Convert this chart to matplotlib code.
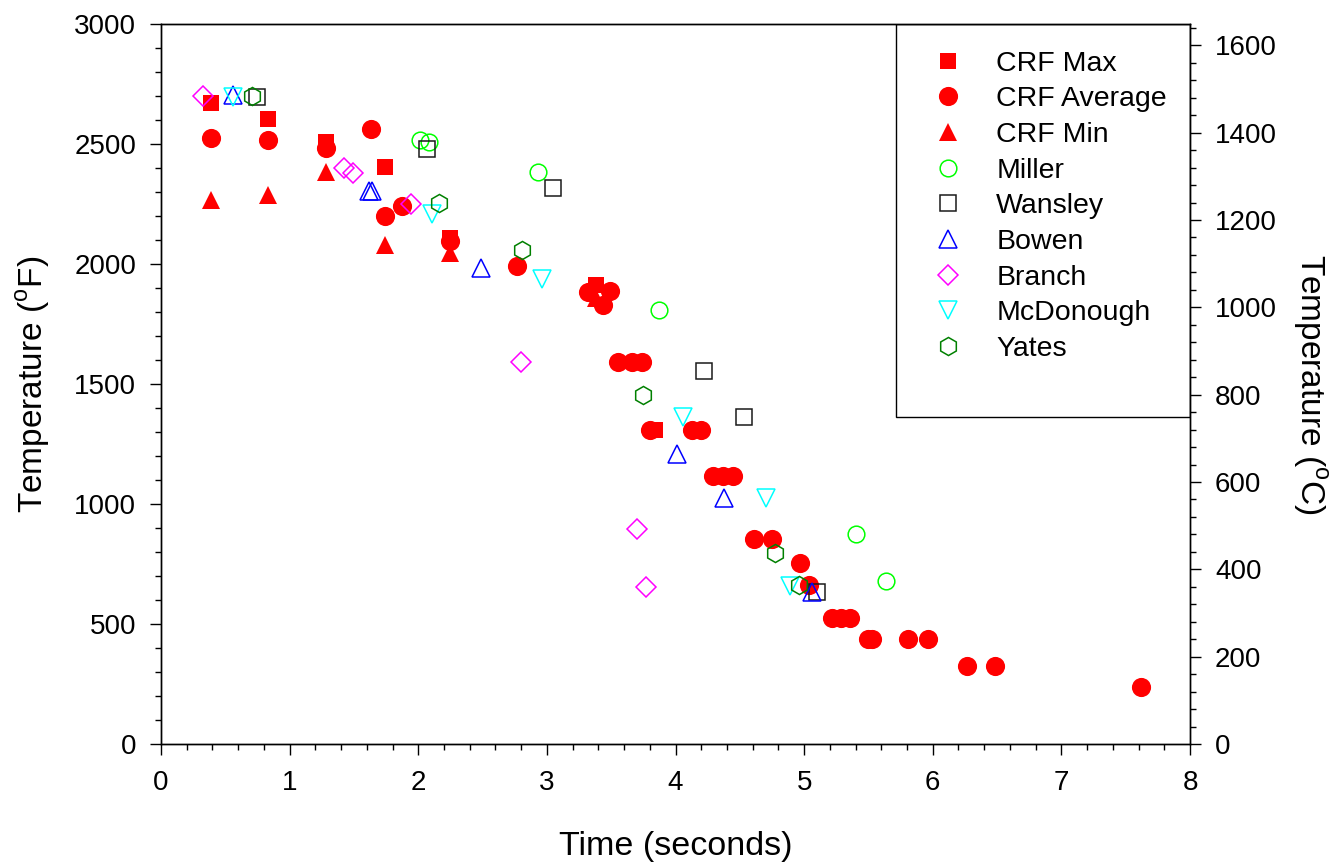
import matplotlib
matplotlib.use("Agg")
import matplotlib.pyplot as plt
from matplotlib.patches import Rectangle
from matplotlib.ticker import MultipleLocator

plt.rcParams['font.family'] = ['Liberation Sans', 'DejaVu Sans']
plt.rcParams['mathtext.fontset'] = 'custom'
plt.rcParams['mathtext.rm'] = 'Liberation Sans'

# CRF measurements (time in s, temperature in F)
crf_max_t = [0.39, 0.83, 1.28, 1.74, 2.25, 3.38, 3.84]
crf_max_T = [2671, 2604, 2508, 2404, 2110, 1912, 1310]

crf_avg_t = [0.39, 0.83, 1.28, 1.63, 1.74, 1.87, 2.25, 2.77, 3.32, 3.49, 3.44,
             3.55, 3.66, 3.74, 3.80, 4.13, 4.20, 4.29, 4.37, 4.45, 4.61, 4.75,
             4.97, 5.04, 5.22, 5.29, 5.36, 5.50, 5.53, 5.81, 5.96, 6.27, 6.48, 7.62]
crf_avg_T = [2525, 2517, 2483, 2562, 2200, 2242, 2095, 1992, 1883, 1887, 1829,
             1592, 1592, 1592, 1308, 1308, 1308, 1117, 1117, 1117, 855, 855,
             754, 663, 525, 525, 525, 437, 437, 437, 437, 326, 326, 237]

crf_min_t = [0.39, 0.83, 1.28, 1.74, 2.25, 3.38]
crf_min_T = [2267, 2288, 2383, 2079, 2046, 1860]

# plant data
miller_t = [2.01, 2.08, 2.93, 3.87, 5.40, 5.64]
miller_T = [2517, 2508, 2383, 1808, 875, 679]

wansley_t = [0.75, 2.07, 3.05, 4.22, 4.53, 5.10]
wansley_T = [2696, 2479, 2317, 1554, 1363, 633]

bowen_t = [0.56, 1.62, 1.64, 2.49, 4.01, 4.38, 5.06]
bowen_T = [2704, 2304, 2304, 1983, 1208, 1025, 633]

branch_t = [0.33, 1.42, 1.49, 1.94, 2.80, 3.70, 3.77]
branch_T = [2700, 2400, 2379, 2250, 1592, 896, 654]

mcdonough_t = [0.56, 2.11, 2.96, 4.06, 4.70, 4.89]
mcdonough_T = [2696, 2208, 1938, 1363, 1025, 658]

yates_t = [0.71, 2.16, 2.81, 3.75, 4.77, 4.96]
yates_T = [2700, 2254, 2058, 1454, 796, 663]

fig = plt.figure(figsize=(13.35, 8.64), dpi=100)
ax = fig.add_axes([0.1206, 0.1389, 0.7708, 0.8333])

ax.plot(crf_max_t, crf_max_T, 's', color='red', ms=12, mew=0, label='CRF Max')
ax.plot(crf_avg_t, crf_avg_T, 'o', color='red', ms=13.8, mew=0, label='CRF Average')
ax.plot(crf_min_t, crf_min_T, '^', color='red', ms=13.5, mew=0, label='CRF Min')

open_kw = dict(linestyle='none', mfc='none', mew=1.1)
ax.plot(miller_t, miller_T, 'o', mec='#00ff00', ms=12, label='Miller', **open_kw)
ax.plot(wansley_t, wansley_T, 's', mec='#1a1a1a', ms=11, label='Wansley', **open_kw)
ax.plot(bowen_t, bowen_T, '^', mec='#0000ff', ms=12.5, label='Bowen', **open_kw)
ax.plot(branch_t, branch_T, 'D', mec='#ff00ff', ms=10.5, label='Branch', **open_kw)
ax.plot(mcdonough_t, mcdonough_T, 'v', mec='#00ffff', ms=13, label='McDonough', **open_kw)
ax.plot(yates_t, yates_T, 'h', mec='#008000', ms=13, label='Yates', **open_kw)

ax.set_xlim(0, 8)
ax.set_ylim(0, 3000)
ax.xaxis.set_major_locator(MultipleLocator(1))
ax.xaxis.set_minor_locator(MultipleLocator(0.2))
ax.yaxis.set_major_locator(MultipleLocator(500))
ax.yaxis.set_minor_locator(MultipleLocator(100))
ax.tick_params(which='major', length=8, width=1, labelsize=20, direction='out')
ax.tick_params(which='minor', length=4.5, width=1, direction='out')
ax.tick_params(axis='x', pad=11)
ax.tick_params(axis='y', pad=10)
for s in ax.spines.values():
    s.set_linewidth(1)

ax.set_xlabel('Time (seconds)', fontsize=24.5, labelpad=25)
ax.set_ylabel(r'Temperature ($^{\mathrm{o}}$F)', fontsize=24, labelpad=16)

ax2 = ax.twinx()
ax2.set_ylim(0, (3000 - 32) / 1.8)
ax2.yaxis.set_major_locator(MultipleLocator(200))
ax2.yaxis.set_minor_locator(MultipleLocator(40))
ax2.tick_params(which='major', length=8, width=1, labelsize=20, direction='out', pad=10)
ax2.tick_params(which='minor', length=4.5, width=1, direction='out')
ax2.set_ylabel(r'Temperature ($^{\mathrm{o}}$C)', fontsize=24, rotation=-90, labelpad=37)
for s in ax2.spines.values():
    s.set_linewidth(1)

# legend box reaches well below the entries
ax.add_patch(Rectangle((0.714, 0.454), 0.286, 0.546, transform=ax.transAxes,
                       fill=False, edgecolor='black', lw=1, zorder=5))
ax.legend(loc='upper left', bbox_to_anchor=(0.737, 0.963), frameon=False,
          fontsize=20.5, borderaxespad=0, borderpad=0, numpoints=1,
          handlelength=2, handletextpad=0.7, labelspacing=0.34)

fig.savefig('out.png', dpi=100)
